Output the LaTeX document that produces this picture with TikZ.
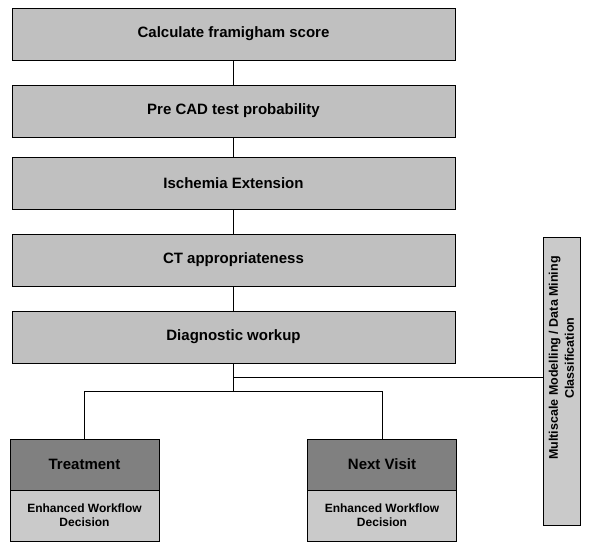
\documentclass[tikz,border=0pt]{standalone}
\usepackage{fontspec}
\setmainfont{Liberation Sans}
\definecolor{stepgray}{RGB}{192,192,192}
\definecolor{outgray}{RGB}{128,128,128}
\definecolor{dotgray}{RGB}{202,202,202}
\begin{document}
\begin{tikzpicture}[x=1pt,y=-1pt,line width=0.8pt,
	stage/.style={draw,fill=stepgray,minimum width=443pt,minimum height=52pt,font=\bfseries\fontsize{15}{18}\selectfont},
	outcome/.style={draw,fill=outgray,minimum width=149pt,minimum height=51pt,font=\bfseries\fontsize{15}{18}\selectfont},
	decision/.style={draw,fill=dotgray,minimum width=149pt,minimum height=51pt,align=center,font=\bfseries\fontsize{12}{14}\selectfont}]
	\useasboundingbox (0,0) rectangle (591,542);
	\node[stage] (calc) at (233.5,34) {Calculate framigham score};
	\node[stage] (pre) at (233.5,111) {Pre CAD test probability};
	\node[stage] (isch) at (233.5,183) {Ischemia Extension};
	\node[stage] (ct) at (233.5,260) {CT appropriateness};
	\node[stage] (diag) at (233.5,337) {Diagnostic workup};
	\node[outcome] (treat) at (84.5,464.5) {Treatment};
	\node[decision] (treatdec) at (84.5,515.5) {Enhanced Workflow\\Decision};
	\node[outcome] (visit) at (382,464.5) {Next Visit};
	\node[decision] (visitdec) at (382,515.5) {Enhanced Workflow\\Decision};
	\node[decision,minimum width=37pt,minimum height=288pt] (mdm) at (561.5,381) {};
	\node[rotate=90,align=center,font=\bfseries\fontsize{12.5}{16}\selectfont] (mdmlabel) at (561.5,358) {Multiscale Modelling / Data Mining\\Classification};
	\coordinate (tap) at (233.5,377);
	\coordinate (split) at (233.5,391);
	\foreach \a/\b in {calc/pre,pre/isch,isch/ct,ct/diag}
		\draw (\a) -- (\b);
	\draw (diag.south) -- (split);
	\draw (treat.north) |- (split) -| (visit.north);
	\draw (tap) -- (tap -| mdm.west);
\end{tikzpicture}
\end{document}
